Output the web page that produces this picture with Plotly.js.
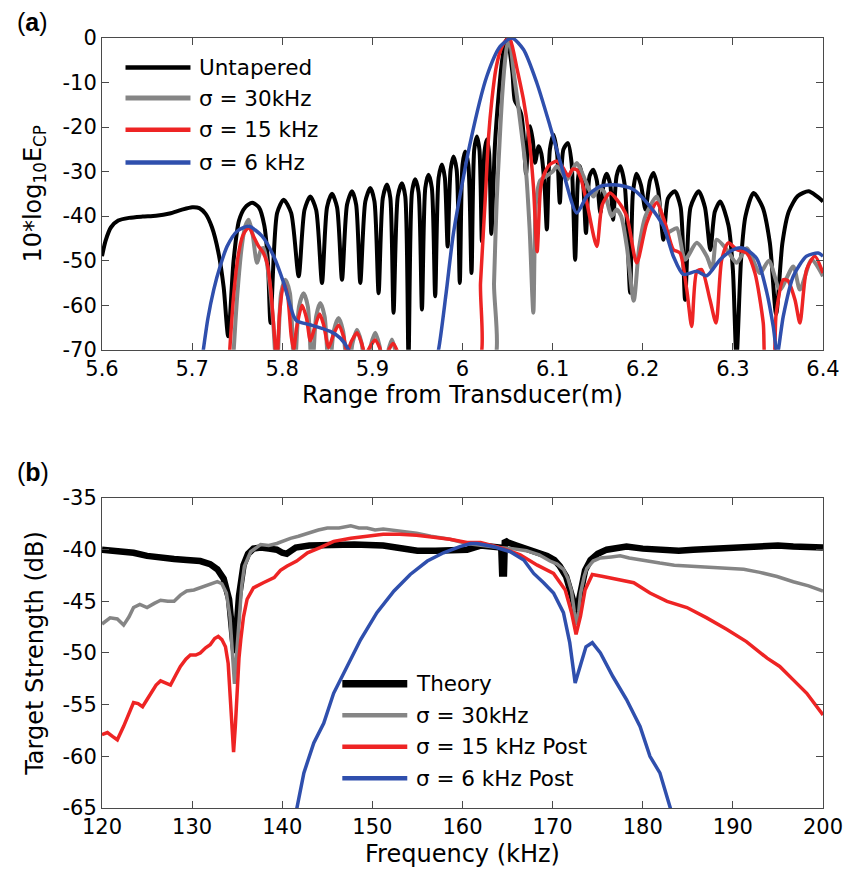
<!DOCTYPE html>
<html><head><meta charset="utf-8">
<script src="https://cdn.plot.ly/plotly-3.0.1.min.js"></script>
<style>html,body{margin:0;padding:0;background:#fff}</style>
</head><body><div id="chart" style="width:846px;height:875px"></div>
<script>
// ---------- Panel (a): compressed pulse energy vs range ----------
const rangeUntaperedX = [5.600,5.604,5.610,5.618,5.630,5.645,5.660,5.675,5.688,5.700,5.708,5.715,5.722,5.729,5.735,5.740,
5.746,5.752,5.759,5.7665,5.774,5.780,5.784,5.787,
5.7943,5.8016,5.8099,5.8182,5.8247,5.8311,5.8376,5.8441,5.8497,5.8552,5.8608,5.8663,
5.8719,5.8774,5.8820,5.8866,5.8922,5.8977,5.9023,5.9069,5.9116,5.9162,5.9199,5.9235,
5.9282,5.9328,5.9365,5.9401,5.9439,5.9476,5.9513,5.9550,5.9587,5.9623,5.9660,5.9697,
5.9735,5.9772,5.9804,5.9835,5.9868,5.9900,5.9935,5.9970,6.0000,6.0030,6.0065,6.0100,
6.0130,6.0160,6.0188,6.0215,6.0243,6.0270,6.0295,6.0320,
6.0360,6.0400,6.0440,6.0470,6.0499,
6.0525,6.0555,6.0580,6.0620,6.0650,6.0675,6.0705,6.0735,6.0750,6.0780,6.0805,6.0845,6.0875,6.0910,6.0936,6.0970,6.1010,6.1050,6.1080,6.1120,6.1170,6.1210,6.1250,6.1280,6.1305,6.1340,6.1370,6.1410,6.1450,6.1490,6.1530,6.1570,6.1600,6.1640,6.1670,6.1710,6.1750,6.1800,6.1860,6.1890,6.1930,6.1980,6.2030,6.2080,6.2120,6.2170,6.2230,6.2280,6.2355,6.2420,6.2470,6.2530,6.2620,6.2690,6.2750,6.2800,6.2860,6.2950,6.3000,6.3040,6.3090,6.3140,6.3230,6.3330,6.3410,6.3480,6.3550,6.3620,6.3720,6.3840,6.3930,6.4000];
const energyUntapered = [-49,-45.5,-42.5,-41,-40.4,-40.1,-39.9,-39.4,-38.6,-38.0,-38.2,-39.5,-42.5,-48,-56,-67,
-50,-41,-38,-37,-38,-42,-50,-64,
-39.3,-36.3,-39.3,-53.5,-38.6,-35.6,-38.6,-55.0,-38.0,-35.0,-38.0,-54.3,
-37.4,-34.4,-37.4,-55.0,-36.7,-33.7,-36.7,-57.3,-35.9,-32.9,-35.9,-61.7,
-35.6,-32.6,-35.6,-72,-34.7,-31.7,-34.7,-61,-33.7,-30.7,-33.7,-58,
-31.4,-28.4,-31.4,-46.8,-29.6,-26.6,-29.6,-55,-28.5,-25.5,-28.5,-52.8,
-25.1,-22.1,-25.1,-45.7,-25.8,-22.8,-25.8,-44,
-24,-13,-5,-1.5,0,
-3,-8,-14,-15.5,-17,-21,-30.5,-21,-19.8,-23,-28,-24.3,-26,-33,-43,-25,-21.7,-26,-37,-25,-23.6,-28,-49.8,-32,-28.8,-33,-43.8,-31,-29.6,-32,-39.3,-32,-30.5,-33,-40.8,-31,-28.8,-33,-57.2,-35,-30.5,-33,-38.5,-32,-30.3,-34,-45.3,-36,-34.4,-38,-58.8,-38,-34.4,-38,-47.6,-39,-36.7,-42,-52,-72,-50,-40,-34.8,-38,-46,-62,-46,-39,-35.5,-34.4,-35.5,-36.7];

const rangeSigma30X = [5.745,5.750,5.755,5.759,5.7628,5.767,5.772,5.7765,5.7794,5.784,5.790,5.794,
5.7987,5.8034,5.8085,5.8135,5.8186,5.8237,5.8284,5.8330,5.8376,5.8422,5.8470,5.8520,
5.8570,5.8625,5.8676,5.8727,5.8780,5.8829,5.8880,5.8930,5.8980,5.9032,5.9080,5.9125,
5.9170,5.9217,5.9260,5.9300,
6.0326,6.035,6.038,6.041,6.0437,6.047,6.0492,6.052,
6.054,6.057,6.061,6.066,6.0705,6.0745,6.0786,6.0815,6.0861,6.093,6.100,6.1047,6.110,6.1158,6.121,6.1269,6.1342,6.1405,6.1453,6.151,6.157,6.1656,6.171,6.176,6.1823,6.190,6.196,6.203,6.2155,6.222,6.2266,6.2377,6.2469,6.2599,6.271,6.277,6.2821,6.2931,6.3042,6.3153,6.330,6.340,6.3522,6.367,6.3744,6.3874,6.400];
const energySigma30 = [-74,-58,-47,-42.2,-40.8,-44,-50.5,-47.5,-47.2,-52,-64,-76,
-57.3,-54.3,-57.3,-76,-60.3,-57.3,-60.3,-76,-62.5,-59.5,-62.5,-76,
-65.9,-62.9,-65.9,-76,-68.5,-65.5,-68.5,-76,-69.2,-66.2,-69.2,-76,
-70.7,-67.7,-70.7,-76,
-74,-55,-36.3,-24,-14,-5.5,-2,0,
-2.5,-8,-14,-22,-30,-43,-61.7,-37,-32,-31,-30,-28.8,-30,-31.8,-30,-28.1,-31,-34,-35.6,-33.5,-34.5,-40,-38.5,-40,-46.8,-59,-47,-40,-35.6,-41,-43.8,-42.7,-49.8,-46,-49,-52,-45.3,-47.5,-50.5,-47.2,-52.8,-50,-56.5,-51.3,-56.5,-49.8,-53.5];

const rangeSigma15X = [5.7405,5.746,5.751,5.756,5.7628,5.768,5.7738,5.7783,5.7831,5.787,5.791,5.794,5.797,5.8016,5.806,5.810,5.8126,5.816,5.822,5.827,5.8312,5.836,5.8415,5.846,5.8515,5.857,5.8625,5.868,5.8718,5.877,5.883,5.888,5.8921,5.897,5.903,5.908,5.912,5.917,5.9228,5.928,5.932,
6.016,6.020,6.0252,6.029,6.0326,6.037,6.0418,6.047,6.0521,6.056,6.060,6.0677,6.0732,6.0787,6.0828,6.0865,6.0898,6.0965,6.1047,6.111,6.1175,6.122,6.1269,6.132,6.138,6.149,6.155,6.1637,6.172,6.1822,6.1933,6.2044,6.2155,6.2247,6.2339,6.2413,6.2488,6.2543,6.2599,6.2654,6.2746,6.2813,6.2876,6.2949,6.3042,6.3153,6.3245,6.3337,6.337,6.344,6.348,6.3559,6.361,6.3689,6.3744,6.3818,6.391,6.400];
const energySigma15 = [-74,-58,-49,-44.5,-42.5,-44.5,-46.8,-48,-50.5,-56,-66,-73,-62,-55,-58,-67,-70,-65,-60,-63,-68,-65,-62,-64.5,-69.5,-66.5,-64.5,-67,-70.5,-68,-66.2,-68.5,-71,-69.5,-67.8,-69.5,-72,-70.5,-68.6,-70.5,-74,
-74,-55,-36.3,-22,-13.9,-7,-3,-0.8,0,-2.5,-6.4,-13.9,-21.3,-33.3,-48,-34,-31,-28.5,-27.7,-29,-31,-29.5,-29.6,-32,-37,-46.8,-37.5,-34.8,-36.5,-40,-50.5,-41.5,-37,-41.5,-47.5,-48.3,-56.5,-64.8,-52.5,-52,-58.8,-64,-49.8,-46,-47.5,-48.3,-52.8,-64,-74,-74,-62,-54.3,-54.5,-58.8,-64,-52,-49,-52.8];

const rangeSigma6X = [5.7111,5.7175,5.724,5.7315,5.7388,5.7499,5.7628,5.7776,5.7905,5.8016,5.8127,5.8164,5.8311,5.8533,5.8644,5.8736,5.880,
5.968,5.9734,5.982,5.990,6.0085,6.027,6.0418,6.0548,6.0677,6.0825,6.0972,6.112,6.1268,6.1379,6.1527,6.1712,6.1896,6.208,6.2229,6.2339,6.245,6.2599,6.271,6.2857,6.3005,6.3115,6.3264,6.3375,6.3448,6.3492,6.3559,6.367,6.3818,6.3947,6.400];
const energySigma6 = [-72,-63,-56.5,-51,-46.8,-43.4,-42.3,-44.5,-49,-55,-62.5,-63.6,-64.4,-65.9,-67.4,-70,-74,
-74,-70,-57,-43.8,-23.6,-8.6,-1.9,0,-2.6,-10.1,-19.8,-30.3,-39.3,-35.6,-33.3,-33,-34,-37.8,-42.3,-49,-53.1,-52.4,-53.4,-49.8,-47.5,-47.2,-49.5,-57,-64.8,-71,-62.5,-53.5,-49,-48.3,-49];

// ---------- Panel (b): target strength vs frequency ----------
const freqTheory = [120,122,123.5,125,126.5,128,129.4,130.9,132,132.8,133.5,134.1,134.5,134.7,134.9,135.2,135.7,136.2,136.8,137.6,138.5,139.4,140.0,140.5,141.0,141.5,143,145.7,148,151.2,153,155,157,159,160.5,162,163.5,164.3,164.4,164.6,164.7,165,166,167.1,168.5,169.4,170.2,170.8,171.5,171.9,172.3,172.6,172.9,173.2,173.6,174.2,175,176,178.2,180,181.9,184,185.6,187.5,189.3,191,193,195,196.7,198.5,200];
const tsTheory = [-40.0,-40.1,-40.3,-40.6,-40.8,-40.9,-41.0,-41.1,-41.4,-41.9,-42.8,-44.8,-48.5,-50,-48,-44.5,-41.5,-40.4,-39.9,-39.8,-39.9,-40.0,-40.3,-40.4,-40.1,-39.8,-39.6,-39.5,-39.5,-39.6,-39.8,-40.1,-40.1,-40.0,-40.0,-39.6,-39.7,-39.8,-42.3,-42.3,-39.1,-39.3,-39.6,-39.9,-40.2,-40.6,-41.0,-41.6,-42.6,-43.6,-45,-46.3,-45,-43.3,-42,-41,-40.4,-40.0,-39.7,-39.9,-40,-40.1,-40,-39.9,-39.8,-39.7,-39.6,-39.6,-39.7,-39.8,-39.8];

const freqSigma30 = [120,120.5,120.9,121.7,122.4,123,123.5,124.2,125,125.8,126.5,127.3,128,128.7,129.4,130.2,130.9,131.8,132.8,133.3,133.8,134.2,134.5,134.7,134.9,135.2,135.5,135.8,136.5,137.6,138.5,139.4,140.2,140.9,141.8,142.8,144,145,146.3,147.6,148.5,149.4,150.3,151.2,153,154.9,156.5,158.6,160.5,162,164,165.5,167.1,168.5,169.7,170.5,171.2,171.7,172.1,172.4,172.65,172.9,173.1,173.5,173.8,174.5,175.3,176.5,177.5,178.5,179.7,181,181.9,183.5,185.6,187.5,189.3,191.2,193,194.9,196.7,198.4,200];
const tsSigma30 = [-47.2,-46.9,-46.6,-46.7,-47.3,-46.5,-45.6,-45.3,-45.6,-45.2,-44.9,-45.0,-45.0,-44.4,-44.0,-43.9,-43.7,-43.4,-43.1,-43.3,-44.2,-46.5,-50.5,-53,-50.5,-46.5,-43.5,-41.6,-40.2,-39.5,-39.6,-39.4,-39.1,-38.9,-38.7,-38.4,-38.1,-37.9,-37.9,-37.7,-37.9,-37.9,-38.1,-38.0,-38.2,-38.4,-38.7,-39.0,-39.4,-39.6,-39.8,-39.9,-40.1,-40.5,-41.1,-41.4,-41.9,-42.8,-44,-46,-47.3,-46,-44.2,-42.6,-41.8,-41.1,-40.8,-40.7,-40.6,-40.8,-41.0,-41.2,-41.3,-41.5,-41.6,-41.7,-41.8,-41.9,-42.2,-42.6,-43.1,-43.5,-44.0];

const freqSigma15 = [120,120.6,121.2,121.7,122.4,123,123.5,124,124.5,125,125.4,126,126.5,127,127.6,128.2,128.7,129.3,129.8,130.4,130.9,131.5,132,132.5,132.9,133.3,133.7,134,134.2,134.45,134.6,134.8,135,135.2,135.4,135.7,136.1,136.8,137.9,139.1,139.8,140.5,141.6,142.8,144.2,145.7,147.6,149.4,151.2,153,154.9,156.8,158.6,160.5,162,164.2,166.4,168.3,170.1,171.4,172.1,172.6,173.1,173.6,174.4,175.6,177.5,179,180.8,182.7,184.9,187.1,189.3,191.5,193.8,195.2,196.7,198.2,200];
const tsSigma15 = [-57.9,-57.7,-58.1,-58.4,-57.1,-55.8,-54.8,-54.9,-55.2,-54.5,-53.9,-53.1,-52.7,-52.9,-53.1,-52.1,-51.3,-50.6,-50.2,-50.2,-50.0,-49.5,-49.2,-48.6,-48.4,-48.7,-49.4,-51,-53.6,-57,-59.6,-57,-53.6,-50.5,-48.7,-46.5,-44.8,-43.7,-43.2,-42.7,-42.0,-41.6,-41.1,-40.3,-39.8,-39.2,-38.9,-38.7,-38.5,-38.5,-38.6,-38.8,-39.0,-39.3,-39.3,-39.8,-40.5,-41.5,-42.3,-43.9,-46.1,-48.2,-46.4,-43.9,-42.4,-42.6,-42.9,-43.2,-44.2,-45.0,-45.6,-46.6,-47.7,-48.9,-50.5,-51.3,-52.6,-53.9,-56.0];

const freqSigma6 = [141.4,141.6,142.4,143.5,144.6,145.7,147.2,148.7,150.5,152.4,154.2,156.1,157.9,159.7,160.9,161.6,163.4,165.3,166.8,167.9,169,170.1,171.2,171.9,172.5,173.1,173.7,174.4,175.3,176.7,178.2,179.7,180.8,181.9,182.8,183.2,183.4];
const tsSigma6 = [-66,-65.2,-61.6,-58.7,-56.8,-53.9,-51.3,-48.7,-46.1,-44.0,-42.4,-41.1,-40.3,-39.7,-39.4,-39.4,-39.7,-40.2,-41.0,-42.3,-43.2,-44.2,-46.1,-49,-52.9,-51,-49.4,-49,-50,-52.3,-54.5,-57.1,-60,-61.6,-64.2,-65.2,-66];

// ---------- ticks & labels ----------
const rangeTicks = [5.6,5.7,5.8,5.9,6.0,6.1,6.2,6.3,6.4];
const rangeTickText = ['5.6','5.7','5.8','5.9','6','6.1','6.2','6.3','6.4'];
const energyTicks = [-70,-60,-50,-40,-30,-20,-10,0];
const energyTickText = ['-70','-60','-50','-40','-30','-20','-10','0'];
const freqTicks = [120,130,140,150,160,170,180,190,200];
const freqTickText = ['120','130','140','150','160','170','180','190','200'];
const tsTicks = [-65,-60,-55,-50,-45,-40,-35];
const tsTickText = ['-65','-60','-55','-50','-45','-40','-35'];
const legendTop = ['Untapered','σ = 30kHz','σ = 15 kHz','σ = 6 kHz'];
const legendBottom = ['Theory','σ = 30kHz','σ = 15 kHz Post','σ = 6 kHz Post'];

const C_BLACK='#000000', C_GRAY='#858585', C_RED='#ee2424', C_BLUE='#2f4fad';
const FONT='DejaVu Sans';

function tr(x,y,color,width,xa,ya,shape){
  return {x:x,y:y,type:'scatter',mode:'lines',xaxis:xa,yaxis:ya,showlegend:false,hoverinfo:'skip',
    line:{color:color,width:width,shape:shape||'spline',smoothing:0.7}};
}
const data = [
  tr(rangeUntaperedX,energyUntapered,C_BLACK,4,'x','y'),
  tr(rangeSigma30X,energySigma30,C_GRAY,4,'x','y'),
  tr(rangeSigma15X,energySigma15,C_RED,3.5,'x','y'),
  tr(rangeSigma6X,energySigma6,C_BLUE,3.5,'x','y'),
  tr(freqTheory,tsTheory,C_BLACK,6.5,'x2','y2','linear'),
  tr(freqSigma30,tsSigma30,C_GRAY,3.5,'x2','y2','linear'),
  tr(freqSigma15,tsSigma15,C_RED,3.5,'x2','y2','linear'),
  tr(freqSigma6,tsSigma6,C_BLUE,3.5,'x2','y2','linear')
];

const axBase = {showline:true,linecolor:'#4a4a4a',linewidth:1,mirror:'ticks',ticks:'inside',ticklen:7,
  tickcolor:'#4a4a4a',tickwidth:1,showgrid:false,zeroline:false,
  tickfont:{family:FONT,size:21,color:'#000'}};
const titleFont = {family:FONT,size:24,color:'#000'};

const shapes=[], annotations=[];
const topColors=[C_BLACK,C_GRAY,C_RED,C_BLUE], topWidths=[4.5,5,4.5,4.5];
const topRows=[0.9057,0.8075,0.7058,0.6009];
legendTop.forEach((t,i)=>{
  shapes.push({type:'line',xref:'x domain',yref:'y domain',x0:0.0326,x1:0.1227,y0:topRows[i],y1:topRows[i],
    line:{color:topColors[i],width:topWidths[i]}});
  annotations.push({xref:'x domain',yref:'y domain',x:0.1324,y:topRows[i],xanchor:'left',yanchor:'middle',
    text:t,showarrow:false,font:{family:FONT,size:21.5,color:'#000'}});
});
const botWidths=[7.5,4.5,4.5,4.5];
const botRows=[0.401,0.2994,0.1977,0.0961];
legendBottom.forEach((t,i)=>{
  shapes.push({type:'line',xref:'x2 domain',yref:'y2 domain',x0:0.3333,x1:0.4234,y0:botRows[i],y1:botRows[i],
    line:{color:topColors[i],width:botWidths[i]}});
  annotations.push({xref:'x2 domain',yref:'y2 domain',x:0.4331,y:botRows[i],xanchor:'left',yanchor:'middle',
    text:t,showarrow:false,font:{family:FONT,size:21.5,color:'#000'}});
});
annotations.push({xref:'paper',yref:'paper',x:-0.0963,y:1.0205,xanchor:'center',yanchor:'middle',
  text:'(<b>a</b>)',showarrow:false,font:{family:'Liberation Sans',size:25,color:'#000'}});
annotations.push({xref:'paper',yref:'paper',x:-0.0956,y:0.4361,xanchor:'center',yanchor:'middle',
  text:'(<b>b</b>)',showarrow:false,font:{family:'Liberation Sans',size:25,color:'#000'}});

const layout = {
  width:846,height:875,paper_bgcolor:'#fff',plot_bgcolor:'#fff',
  margin:{l:101.5,r:23,t:38.3,b:66.7},
  showlegend:false,
  xaxis:Object.assign({},axBase,{domain:[0,1],anchor:'y',range:[5.6,6.4],tickvals:rangeTicks,ticktext:rangeTickText,
    title:{text:'Range from Transducer(m)',font:titleFont,standoff:6}}),
  yaxis:Object.assign({},axBase,{domain:[0.5952,1],anchor:'x',range:[-70,0],tickvals:energyTicks,ticktext:energyTickText,
    title:{text:'10*log<sub>10</sub>E<sub>CP</sub>',font:titleFont,standoff:14}}),
  xaxis2:Object.assign({},axBase,{domain:[0,1],anchor:'y2',range:[120,200],tickvals:freqTicks,ticktext:freqTickText,
    title:{text:'Frequency (kHz)',font:titleFont,standoff:6}}),
  yaxis2:Object.assign({},axBase,{domain:[0,0.4026],anchor:'x2',range:[-65,-35],tickvals:tsTicks,ticktext:tsTickText,
    title:{text:'Target Strength (dB)',font:titleFont,standoff:12}}),
  shapes:shapes,annotations:annotations
};
Plotly.newPlot('chart',data,layout,{displayModeBar:false,staticPlot:true});
</script>
</body></html>
